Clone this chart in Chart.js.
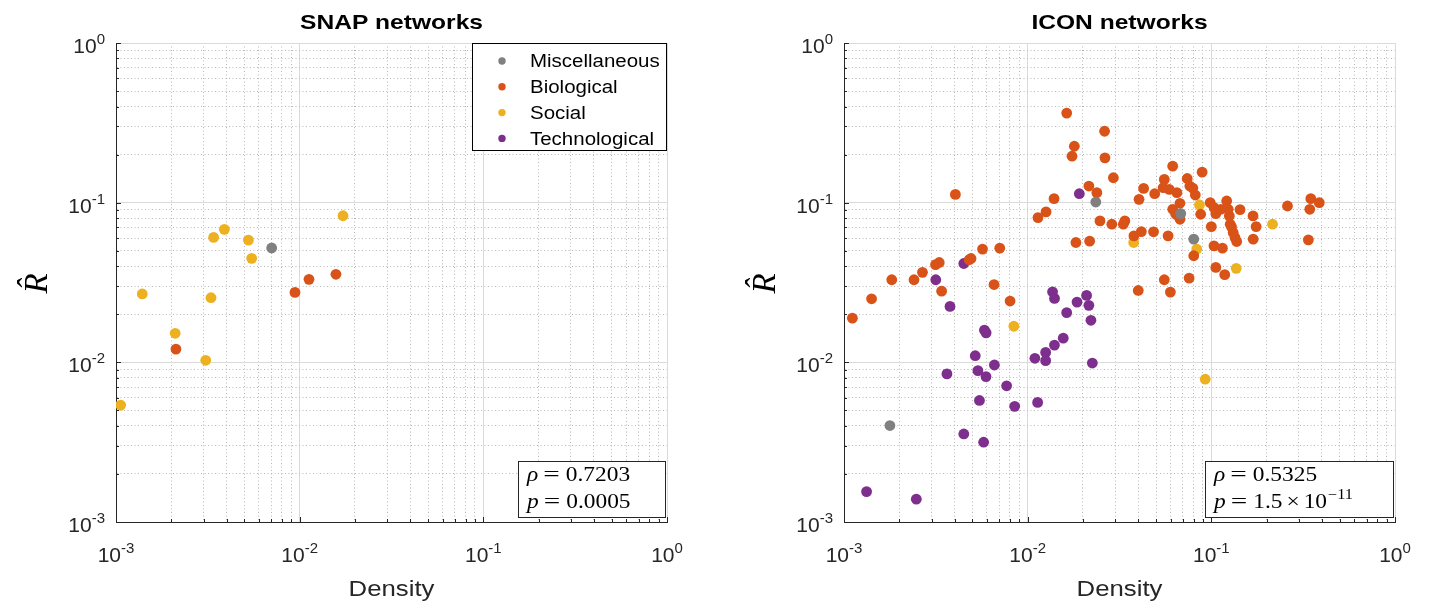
<!DOCTYPE html>
<html>
<head>
<meta charset="utf-8">
<script src="https://cdn.jsdelivr.net/npm/chart.js@4.4.0/dist/chart.umd.min.js"></script>
<style>
html,body{margin:0;padding:0;background:#fff;}
#wrap{position:relative;width:1430px;height:602px;overflow:hidden;}
.cell{position:absolute;top:0;width:715px;height:602px;}
canvas{display:block;}
</style>
</head>
<body>
<div id="wrap">
  <div class="cell" style="left:0"><canvas id="snap" width="715" height="602"></canvas></div>
  <div class="cell" style="left:715px"><canvas id="icon" width="715" height="602"></canvas></div>
</div>
<script>
// ---------------- data ----------------
const categories = ['Miscellaneous', 'Biological', 'Social', 'Technological'];
const chartTitles = ['SNAP networks', 'ICON networks'];
const xAxisTitle = 'Density';
const yAxisTitle = 'R\u0302';
const decadeExps = [-3, -2, -1, 0];
const minorSteps = [2, 3, 4, 5, 6, 7, 8, 9];

// SNAP networks: [density, R-hat]
const snapMisc = [[0.00704, 0.0520]];
const snapBio = [[0.01576, 0.0356], [0.01124, 0.0331], [0.00943, 0.0274], [0.00212, 0.0121]];
const snapSocial = [[0.01722, 0.0828], [0.00389, 0.0681], [0.0034, 0.0606], [0.00526, 0.0583],
  [0.00548, 0.0448], [0.00139, 0.0268], [0.00329, 0.0254], [0.0021, 0.0152], [0.00308, 0.0103],
  [0.00106, 0.0054]];
const snapTech = [];
const snapRho = '0.7203';
const snapP = '0.0005';

// ICON networks: [density, R-hat]
const iconMisc = [[0.02349, 0.1009], [0.0681, 0.0854], [0.0802, 0.0591], [0.001778, 0.00402]];
const iconBio = [
  [0.01631, 0.364], [0.02623, 0.280], [0.01795, 0.2256], [0.01744, 0.1954], [0.02635, 0.1909],
  [0.02929, 0.1432], [0.02154, 0.1271], [0.0238, 0.1155], [0.01392, 0.1059], [0.01259, 0.0875],
  [0.01138, 0.0806], [0.004041, 0.1127], [0.02476, 0.0769], [0.02873, 0.0733], [0.03318, 0.0733],
  [0.03382, 0.0769], [0.01831, 0.0563], [0.02175, 0.0574], [0.0379, 0.062], [0.04158, 0.0659],
  [0.04846, 0.0657], [0.05815, 0.062], [0.0404, 0.1049], [0.04279, 0.1228], [0.04917, 0.1138],
  [0.05545, 0.1398], [0.06161, 0.1693], [0.05464, 0.1241], [0.0590, 0.1211], [0.06494, 0.1155],
  [0.0739, 0.1418], [0.0764, 0.1271], [0.0793, 0.1234], [0.0818, 0.1116], [0.0891, 0.1553],
  [0.06748, 0.0991], [0.06161, 0.0909], [0.0641, 0.0846], [0.0675, 0.0787], [0.0875, 0.0846],
  [0.0986, 0.1], [0.1034, 0.0931], [0.1058, 0.0854], [0.1127, 0.0909], [0.1212, 0.1024],
  [0.1236, 0.0909], [0.1253, 0.0826], [0.1267, 0.0733], [0.1288, 0.0705], [0.1315, 0.065],
  [0.1345, 0.0605], [0.1374, 0.0571], [0.1433, 0.0904], [0.1, 0.0708], [0.0802, 0.0465],
  [0.1034, 0.0536], [0.1149, 0.0519], [0.1058, 0.0393], [0.1183, 0.0354], [0.0757, 0.0337],
  [0.05545, 0.0329], [0.1687, 0.0826], [0.1753, 0.0708], [0.169, 0.0591], [0.2598, 0.0953],
  [0.348, 0.1059], [0.3868, 0.1], [0.3436, 0.0909], [0.3375, 0.0585],
  [0.007046, 0.0519], [0.005677, 0.0512], [0.004917, 0.0447], [0.0048, 0.0439], [0.0033, 0.0422],
  [0.00315, 0.0409], [0.002674, 0.0366], [0.002405, 0.0329], [0.00182, 0.0329], [0.00656, 0.0307],
  [0.0034, 0.0279], [0.001413, 0.025], [0.001111, 0.0189], [0.00802, 0.0242], [0.04, 0.0282],
  [0.05985, 0.02753]];
const iconSocial = [[0.03778, 0.0563], [0.0862, 0.0967], [0.0833, 0.0512], [0.1366, 0.0388],
  [0.2154, 0.0733], [0.00841, 0.01683], [0.09261, 0.00784]];
const iconTech = [
  [0.01911, 0.1138], [0.00449, 0.0416], [0.00316, 0.0329], [0.003777, 0.0224], [0.005815, 0.0159],
  [0.00594, 0.0153], [0.005183, 0.011], [0.00536, 0.00887], [0.00593, 0.00814], [0.00659, 0.00962],
  [0.003634, 0.00846], [0.00768, 0.00713], [0.005463, 0.00577], [0.0085, 0.0053], [0.01133, 0.00561],
  [0.00449, 0.00356], [0.005758, 0.00316], [0.001327, 0.00155], [0.002476, 0.00139], [0.01095, 0.0106],
  [0.01253, 0.01154], [0.01253, 0.01024], [0.01399, 0.01282], [0.01562, 0.01417], [0.01631, 0.02047],
  [0.01857, 0.02385], [0.02093, 0.02624], [0.02154, 0.02274], [0.0221, 0.01834], [0.0225, 0.0099],
  [0.01366, 0.02766], [0.014, 0.02514]];
const iconRho = '0.5325';
const iconPMant = '1.5';
const iconPExp = '\u221211';

// ---------------- styles ----------------
const catColors = ['#808080', '#D95319', '#EDB120', '#7E2F8E'];
const SANS = '"Liberation Sans", Arial, Helvetica, sans-serif';
const SERIF = '"Liberation Serif", "Times New Roman", serif';
const SX = 1.17; // horizontal text stretch of the reference figure

const tickValues = [];
decadeExps.forEach((e, i) => {
  tickValues.push(Math.pow(10, e));
  if (i < decadeExps.length - 1) minorSteps.forEach(s => tickValues.push(+(s * Math.pow(10, e)).toPrecision(6)));
});
function isMajorVal(v) { const l = Math.log10(v); return Math.abs(l - Math.round(l)) < 1e-9; }

function txt(ctx, t, x, y, font, sx) {
  ctx.save(); ctx.font = font; ctx.translate(x, y); ctx.scale(sx, 1);
  ctx.textAlign = 'left'; ctx.fillText(t, 0, 0); ctx.restore();
}
function tw(ctx, t, font, sx) { ctx.save(); ctx.font = font; const w = ctx.measureText(t).width * sx; ctx.restore(); return w; }
function piecesW(ctx, pcs) { return pcs.reduce((a, p) => a + tw(ctx, p.t, p.font, p.sx) + (p.gap || 0), 0); }
function drawPieces(ctx, pcs, x, y) {
  let cx = x;
  pcs.forEach(p => { txt(ctx, p.t, cx, y + (p.dy || 0), p.font, p.sx); cx += tw(ctx, p.t, p.font, p.sx) + (p.gap || 0); });
}
function powPieces(e) {
  return [{ t: '10', font: '21px ' + SANS, sx: 1 }, { t: String(e), font: '15px ' + SANS, sx: 1, dy: -9 }];
}

function decorPlugin(cfg) {
  return {
    id: 'decor',
    afterDraw(chart) {
      const ctx = chart.ctx, a = chart.chartArea;
      const xs = chart.scales.x, ys = chart.scales.y;
      ctx.save();
      ctx.fillStyle = '#000';
      // inside tick marks
      ctx.strokeStyle = '#262626'; ctx.lineWidth = 1;
      tickValues.forEach(v => {
        const len = isMajorVal(v) ? 5 : 3;
        const px = Math.round(xs.getPixelForValue(v)) + 0.5;
        ctx.beginPath(); ctx.moveTo(px, a.bottom); ctx.lineTo(px, a.bottom - len); ctx.stroke();
        const py = Math.round(ys.getPixelForValue(v)) + 0.5;
        ctx.beginPath(); ctx.moveTo(a.left, py); ctx.lineTo(a.left + len, py); ctx.stroke();
      });
      // tick labels
      ctx.fillStyle = '#262626';
      decadeExps.forEach(e => {
        const v = Math.pow(10, e);
        const pcs = powPieces(e);
        const w = piecesW(ctx, pcs);
        const px = xs.getPixelForValue(v);
        drawPieces(ctx, pcs, px - w / 2, a.bottom + 40);
        const py = ys.getPixelForValue(v);
        drawPieces(ctx, pcs, a.left - 11 - w, py + 10);
      });
      // axis titles
      const cxm = (a.left + a.right) / 2;
      const fD = '22px ' + SANS;
      txt(ctx, xAxisTitle, cxm - tw(ctx, xAxisTitle, fD, SX) / 2, 596, fD, SX);
      ctx.save();
      ctx.translate(a.left - 78, (a.top + a.bottom) / 2 + 1);
      ctx.rotate(-Math.PI / 2);
      ctx.font = 'italic 33px ' + SERIF; ctx.textAlign = 'center'; ctx.textBaseline = 'middle';
      ctx.fillStyle = '#000';
      ctx.fillText(yAxisTitle, 0, 0);
      ctx.restore();
      // title
      ctx.fillStyle = '#000';
      const fT = 'bold 21px ' + SANS;
      txt(ctx, cfg.title, cxm - tw(ctx, cfg.title, fT, SX) / 2, 29, fT, SX);
      // legend
      if (cfg.legend) {
        const lx = a.right - 195, ly = a.top, lw = 194, lh = 107;
        ctx.fillStyle = '#fff'; ctx.fillRect(lx, ly, lw, lh);
        ctx.strokeStyle = '#000'; ctx.lineWidth = 1;
        ctx.strokeRect(Math.round(lx) + 0.5, Math.round(ly) + 0.5, lw, lh);
        const fL = '17.5px ' + SANS;
        chart.data.datasets.forEach((ds, i) => {
          const ry = ly + 18 + i * 25.8;
          ctx.fillStyle = ds.backgroundColor;
          ctx.beginPath(); ctx.arc(lx + 30, ry, 3.7, 0, Math.PI * 2); ctx.fill();
          ctx.fillStyle = '#000';
          txt(ctx, ds.label, lx + 58, ry + 6.3, fL, SX);
        });
      }
      // stats box
      const bw = cfg.boxW, bh = 56;
      const bx = a.right - 2 - bw, by = a.bottom - 5 - bh;
      ctx.fillStyle = '#fff'; ctx.fillRect(bx, by, bw, bh);
      ctx.strokeStyle = '#262626'; ctx.lineWidth = 1;
      ctx.strokeRect(Math.round(bx) + 0.5, Math.round(by) + 0.5, bw, bh);
      ctx.fillStyle = '#000';
      const fi = 'italic 20px ' + SERIF, fu = '20px ' + SERIF, fs = '14px ' + SERIF;
      drawPieces(ctx, [{ t: '\u03C1', font: fi, sx: SX, gap: 5 }, { t: '=', font: fu, sx: SX * 1.25, gap: 6 },
        { t: cfg.rho, font: fu, sx: SX }], bx + 9, by + 19.5);
      const pl = [{ t: 'p', font: fi, sx: SX, gap: 5 }, { t: '=', font: fu, sx: SX * 1.25, gap: 6 }];
      if (cfg.pExp) {
        pl.push({ t: cfg.pMant, font: fu, sx: SX, gap: 4 }, { t: '\u00D7', font: fu, sx: SX, gap: 4 },
          { t: '10', font: fu, sx: SX, gap: 1 }, { t: cfg.pExp, font: fs, sx: SX, dy: -9 });
      } else {
        pl.push({ t: cfg.pMant, font: fu, sx: SX });
      }
      drawPieces(ctx, pl, bx + 9, by + 46.5);
      ctx.restore();
    }
  };
}

function makeChart(id, sets, cfg, pad) {
  const datasets = categories.map((name, i) => ({
    label: name,
    data: sets[i].map(p => ({ x: p[0], y: p[1] })),
    backgroundColor: catColors[i],
    borderColor: catColors[i],
    borderWidth: 0,
    pointRadius: 5.4,
    pointHoverRadius: 5.4,
    order: i
  }));
  const axis = pos => ({
    type: 'logarithmic', position: pos, min: 1e-3, max: 1,
    afterBuildTicks: s => { s.ticks = tickValues.map(v => ({ value: v, major: isMajorVal(v) })); },
    afterFit: s => { if (pos === 'left') s.width = 0; else s.height = 0; },
    ticks: { display: false, autoSkip: false },
    grid: {
      drawTicks: false, lineWidth: 1,
      color: c => (c.tick && !c.tick.major) ? '#b8b8b8' : '#dadada'
    },
    border: {
      display: true, color: '#262626', width: 1,
      dash: c => (c.tick && !c.tick.major) ? [1, 2.5] : []
    }
  });
  return new Chart(document.getElementById(id), {
    type: 'scatter',
    data: { datasets },
    options: {
      responsive: false, animation: false, devicePixelRatio: 1,
      layout: { padding: pad },
      plugins: { legend: { display: false }, title: { display: false }, tooltip: { enabled: false } },
      scales: { x: axis('bottom'), y: axis('left') }
    },
    plugins: [decorPlugin(cfg)]
  });
}

makeChart('snap', [snapMisc, snapBio, snapSocial, snapTech],
  { title: chartTitles[0], legend: true, rho: snapRho, pMant: snapP, pExp: null, boxW: 147 },
  { left: 116, right: 48, top: 43, bottom: 80 });
makeChart('icon', [iconMisc, iconBio, iconSocial, iconTech],
  { title: chartTitles[1], legend: false, rho: iconRho, pMant: iconPMant, pExp: iconPExp, boxW: 188 },
  { left: 129, right: 35, top: 43, bottom: 80 });
</script>
</body>
</html>
